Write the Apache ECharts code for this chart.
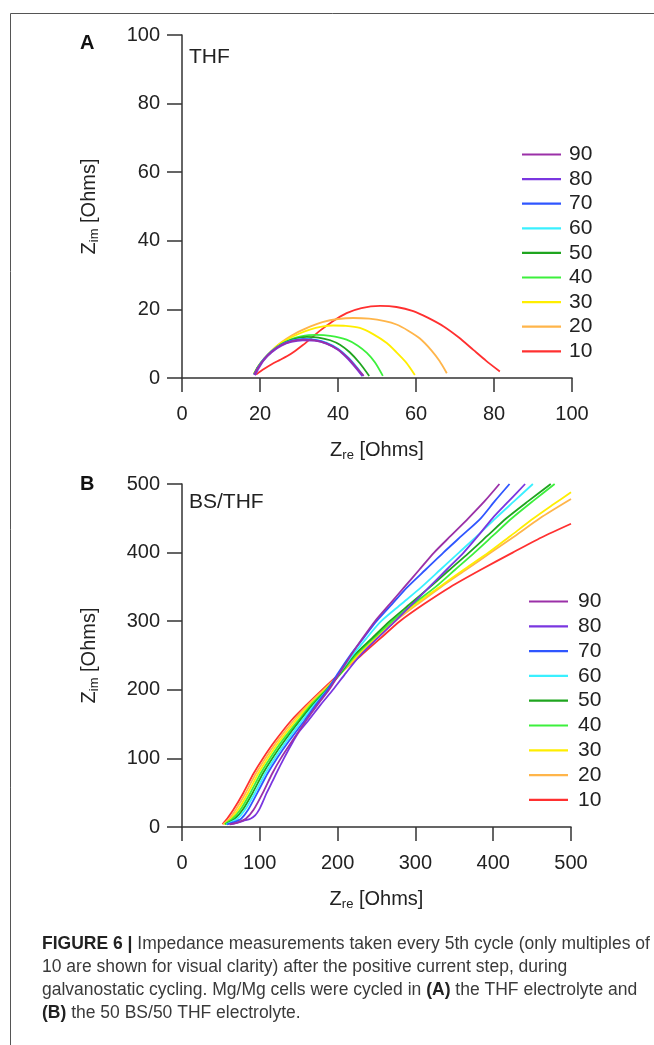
<!DOCTYPE html>
<html><head><meta charset="utf-8">
<script src="https://cdn.jsdelivr.net/npm/echarts@6/dist/echarts.min.js"></script>
<style>html,body{margin:0;padding:0;background:#fff}#c{width:654px;height:1045px}</style>
</head><body><div id="c"></div>
<script>
// ---- categories / legend ----
const cycles = ['90','80','70','60','50','40','30','20','10'];
const cycleColors = ['#9b30a8','#7a36e0','#2f56ff','#3af0ff','#1fa51f','#3cf03c','#ffee00','#ffb54a','#ff3030'];

// ---- tick labels ----
const xTicksA = [0,20,40,60,80,100];
const yTicksA = [0,20,40,60,80,100];
const xTicksB = [0,100,200,300,400,500];
const yTicksB = [0,100,200,300,400,500];

// ---- Panel A (THF): [Zre, Zim] ----
const a10 = [[19,1],[21,2.6],[23,4],[25,5.2],[27,6.4],[29,7.9],[31,9.6],[33,11.5],[35.4,13.8],[38.5,16.4],[42.2,18.9],[46,20.4],[50.8,21],[55,20.7],[59.3,19.5],[63,17.6],[67,15.1],[71,11.8],[74.7,8.2],[78,5],[81.5,1.9]];
const a20 = [[18.5,1.3],[19.6,3.5],[21,5.6],[23,8],[25.5,10.4],[28,12.3],[30.5,13.8],[32.8,15],[36,16.3],[40,17.2],[43.9,17.5],[48,17.3],[52,16.6],[55,15.6],[58,13.8],[61,11.5],[64,8],[66,5],[67.9,1.4]];
const a30 = [[18.5,1.3],[19.6,3.5],[21,5.6],[23,8],[25,9.9],[27,11.3],[30,12.9],[32.8,14.1],[35.5,14.9],[38.8,15.3],[42,15.2],[45.6,14.6],[49,12.8],[52.5,10.2],[55,7.5],[57.5,4.5],[59.7,0.9]];
const a40 = [[18.5,1.2],[19.5,3.3],[21,5.5],[23,7.8],[25.5,9.9],[28,11.3],[30.5,12.1],[32.5,12.5],[34.5,12.6],[38,12.3],[42.2,11.2],[45,9.5],[47.4,7.3],[49.5,4.5],[51.5,0.6]];
const a50 = [[18.5,1.1],[19.5,3.2],[21,5.4],[23,7.7],[25.5,9.8],[28,11.1],[30,11.7],[32,12],[35,11.8],[38,11],[40.5,9.7],[43,7.5],[45.6,4.3],[48,0.6]];
const a60 = [[18.5,1],[19.5,3.1],[21,5.5],[23,7.8],[25.5,9.7],[28,10.8],[31,11.4],[34,11.2],[37,10.3],[40,8.5],[42.6,6],[44.8,3.2],[46.5,0.6]];
const a70 = [[18.5,1],[19.5,3.1],[21,5.5],[23,7.8],[25.5,9.7],[28,10.8],[31,11.3],[34,11.1],[37,10.2],[40,8.4],[42.5,5.9],[44.6,3.2],[46.3,0.6]];
const a80 = [[18.7,0.8],[19.7,2.9],[21,5.2],[23,7.5],[25.5,9.4],[28,10.5],[31,11],[34,10.9],[37,10],[40,8.2],[42.4,5.7],[44.5,3],[46.2,0.6]];
const a90 = [[18.5,1],[19.5,3],[21,5.4],[23,7.7],[25.5,9.6],[28,10.7],[31,11.2],[34,11],[37,10.1],[40,8.3],[42.6,5.8],[44.7,3.1],[46.6,0.6]];

// ---- Panel B (BS/THF): [Zre, Zim] ----
const b10 = [[52,4],[58,12],[66,25],[79,50],[92,78],[104,100],[120,126],[141,156],[160,178],[180,200],[204,225],[230,250],[255,275],[280,300],[311,325],[345,350],[384,375],[425,400],[462,422],[500,442]];
const b20 = [[53,4],[61,12],[69,25],[82,50],[95,78],[107,100],[123,126],[144,156],[162,178],[182,200],[205,225],[227,250],[250,275],[274,300],[303,325],[333,350],[365,375],[397,400],[429,425],[460,450],[500,478]];
const b30 = [[54,4],[63,12],[72,25],[85,50],[98,78],[110,100],[126,126],[147,156],[164,178],[184,200],[205,225],[225,250],[248,275],[271,300],[300,325],[331,350],[362,375],[394,400],[423,425],[452,450],[477,470],[500,488]];
const b40 = [[55,4],[65,12],[75,25],[88,50],[101,78],[113,100],[129,126],[150,156],[166,178],[185,200],[205,225],[223,250],[246,275],[270,300],[297,325],[326,350],[351,375],[376,400],[400,425],[424,450],[451,475],[479,500]];
const b50 = [[56,4],[68,12],[78,25],[91,50],[104,78],[116,100],[132,126],[152,156],[168,178],[186,200],[204,225],[221,250],[244,275],[267,300],[293,325],[319,350],[344,375],[369,400],[393,425],[417,450],[445,475],[474,500]];
const b60 = [[57,4],[71,12],[81,25],[94,50],[107,78],[119,100],[135,126],[155,156],[170,178],[187,200],[203,225],[219,250],[237,275],[256,300],[282,325],[308,350],[332,375],[356,400],[380,425],[403,450],[427,475],[451,500]];
const b70 = [[58,4],[67,7],[76,12],[85,25],[97,50],[110,78],[122,100],[138,126],[158,156],[172,178],[187,200],[201,225],[216,250],[233,275],[250,300],[270,325],[290,350],[313,375],[336,400],[360,425],[384,450],[402,475],[421,500]];
const b80 = [[62,4],[71,6],[79,9],[88,12],[94,17],[99,25],[104,37],[109,50],[116,66],[122,80],[131,100],[141,121],[150,138],[163,156],[178,178],[194,200],[211,225],[229,250],[251,275],[274,300],[297,326],[318,350],[340,375],[362,400],[381,425],[399,450],[420,475],[441,500]];
const b90 = [[61,4],[70,6],[82,12],[92,25],[104,50],[116,78],[127,100],[142,126],[160,156],[174,178],[189,200],[203,225],[217,250],[232,275],[248,300],[267,325],[286,350],[305,375],[324,400],[346,425],[368,450],[389,475],[408,500]];

const seriesA = {'10':a10,'20':a20,'30':a30,'40':a40,'50':a50,'60':a60,'70':a70,'80':a80,'90':a90};
const seriesB = {'10':b10,'20':b20,'30':b30,'40':b40,'50':b50,'60':b60,'70':b70,'80':b80,'90':b90};

const FONT = 'Liberation Sans, Arial, sans-serif';
const INK = '#222';
const AX = '#333';

function nameRich(){
  return {
    fontFamily: FONT, fontSize: 20, color: INK, lineHeight: 22,
    rich: {
      z: {fontFamily: FONT, fontSize: 20, color: INK, lineHeight: 22},
      s: {fontFamily: FONT, fontSize: 13, color: INK, lineHeight: 12, padding: [10,0,0,0]}
    }
  };
}
function xAxisDef(idx, ticks){
  return {
    type: 'value', gridIndex: idx,
    min: ticks[0], max: ticks[ticks.length-1], interval: ticks[1]-ticks[0],
    axisLine: {show: true, onZero: false, lineStyle: {color: AX, width: 1.5}},
    axisTick: {show: true, inside: false, length: 14, lineStyle: {color: AX, width: 1.5}},
    axisLabel: {fontFamily: FONT, fontSize: 20, color: INK, margin: 26},
    splitLine: {show: false},
    name: '{z|Z}{s|re}{z| [Ohms]}', nameLocation: 'middle', nameGap: 61,
    nameTextStyle: nameRich()
  };
}
function yAxisDef(idx, ticks){
  return {
    type: 'value', gridIndex: idx,
    min: ticks[0], max: ticks[ticks.length-1], interval: ticks[1]-ticks[0],
    axisLine: {show: true, onZero: false, lineStyle: {color: AX, width: 1.5}},
    axisTick: {show: true, inside: false, length: 15, lineStyle: {color: AX, width: 1.5}},
    axisLabel: {fontFamily: FONT, fontSize: 20, color: INK, margin: 22},
    splitLine: {show: false},
    name: '{z|Z}{s|im}{z| [Ohms]}', nameLocation: 'middle', nameGap: 82, nameRotate: 90,
    nameTextStyle: nameRich()
  };
}

const order = ['10','20','30','40','50','60','70','80','90'];
const series = [];
order.forEach(function(c){
  const col = cycleColors[cycles.indexOf(c)];
  series.push({type:'line', name:c, xAxisIndex:0, yAxisIndex:0, data: seriesA[c], symbol:'none', showSymbol:false,
    smooth:0.25, lineStyle:{color:col, width:1.8}, itemStyle:{color:col}});
  series.push({type:'line', name:c, xAxisIndex:1, yAxisIndex:1, data: seriesB[c], symbol:'none', showSymbol:false,
    smooth:0.25, lineStyle:{color:col, width:1.8}, itemStyle:{color:col}});
});

function legendDef(left, top, gap, pad){
  return {
    orient: 'vertical', left: left, top: top, padding: 0, itemWidth: 39, itemHeight: 2.2, itemGap: gap,
    icon: 'rect',
    data: cycles, selectedMode: false,
    textStyle: {fontFamily: FONT, fontSize: 21, color: INK, lineHeight: 20, padding: [0,0,0,pad]}
  };
}

const captionLines = [
  '{b|FIGURE 6 |} Impedance measurements taken every 5th cycle (only multiples of',
  '10 are shown for visual clarity) after the positive current step, during',
  'galvanostatic cycling. Mg/Mg cells were cycled in {b|(A)} the THF electrolyte and',
  '{b|(B)} the 50 BS/50 THF electrolyte.'
];
const capY = [944, 967, 990, 1013];

const graphic = [
  {type:'rect', shape:{x:10.5, y:13.5, width:800, height:1200}, style:{fill:'none', stroke:'#555', lineWidth:1}, silent:true},
  {type:'text', left:80, top:33, style:{text:'A', font:'bold 20px '+FONT, fill:'#111'}},
  {type:'text', left:80, top:474, style:{text:'B', font:'bold 20px '+FONT, fill:'#111'}},
  {type:'text', left:189, top:47, style:{text:'THF', font:'21px '+FONT, fill:INK}},
  {type:'text', left:189, top:492, style:{text:'BS/THF', font:'21px '+FONT, fill:INK}}
];
captionLines.forEach(function(t, i){
  graphic.push({type:'text', x:42, y:capY[i], style:{
    text: t, fontFamily: FONT, fontSize: 17.5, fill:'#3a3a3a', verticalAlign:'middle', align:'left',
    rich: {b:{fontFamily: FONT, fontSize: 17.5, fontWeight:'bold', fill:'#222', color:'#222'}}
  }});
});

const chart = echarts.init(document.getElementById('c'), null, {renderer:'canvas'});
chart.setOption({
  animation: false,
  backgroundColor: '#fff',
  grid: [
    {left:182, top:35, width:390, height:343},
    {left:182, top:484, width:389, height:343}
  ],
  xAxis: [xAxisDef(0, xTicksA), xAxisDef(1, xTicksB)],
  yAxis: [yAxisDef(0, yTicksA), yAxisDef(1, yTicksB)],
  legend: [legendDef(522, 144, 3.6, 3), legendDef(529, 591, 3.8, 5)],
  series: series,
  graphic: graphic
});
</script></body></html>
